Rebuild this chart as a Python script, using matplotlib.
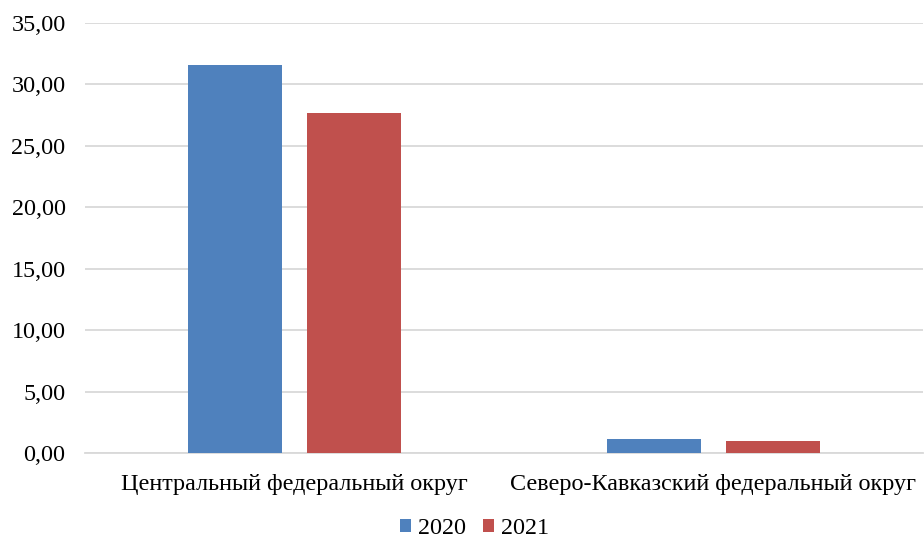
import matplotlib
matplotlib.use('Agg')
import matplotlib.pyplot as plt
import numpy as np
from matplotlib.ticker import FuncFormatter

categories = ['Центральный федеральный округ', 'Северо-Кавказский федеральный округ']
years = ['2020', '2021']
values_2020 = [31.55, 1.14]
values_2021 = [27.68, 0.98]
colors = ['#4F81BD', '#C0504D']

plt.rcParams['font.family'] = ['Liberation Serif', 'DejaVu Serif']
plt.rcParams['font.size'] = 17.4

fig = plt.figure(figsize=(9.24, 5.4), dpi=100)
ax = fig.add_axes([85/924, 87/540, 838/924, 430/540])

x = np.arange(len(categories))
w = 0.224
off = 0.143
ax.bar(x - off, values_2020, w, color=colors[0], label=years[0], zorder=3)
ax.bar(x + off, values_2021, w, color=colors[1], label=years[1], zorder=3)

ax.set_xlim(-0.5, 1.5)
ax.set_ylim(0, 35)
ax.set_yticks(np.arange(0, 36, 5))
ax.yaxis.set_major_formatter(FuncFormatter(lambda v, p: f'{v:.2f}'.replace('.', ',')))
ax.set_xticks(x)
ax.set_xticklabels(categories)
ax.grid(axis='y', color='#D9D9D9', linewidth=1.3, zorder=0)
for s in ['top', 'right', 'left']:
    ax.spines[s].set_visible(False)
ax.spines['bottom'].set_color('#D9D9D9')
ax.spines['bottom'].set_linewidth(1.3)
ax.tick_params(axis='x', length=0, pad=15)
ax.tick_params(axis='y', length=0, pad=14)

fig.legend(loc='lower center', bbox_to_anchor=(0.5135, -0.025), ncol=2, frameon=False,
           handlelength=0.45, handleheight=0.45, handletextpad=0.3, columnspacing=0.7,
           borderaxespad=0.2)

plt.savefig('out.png')
